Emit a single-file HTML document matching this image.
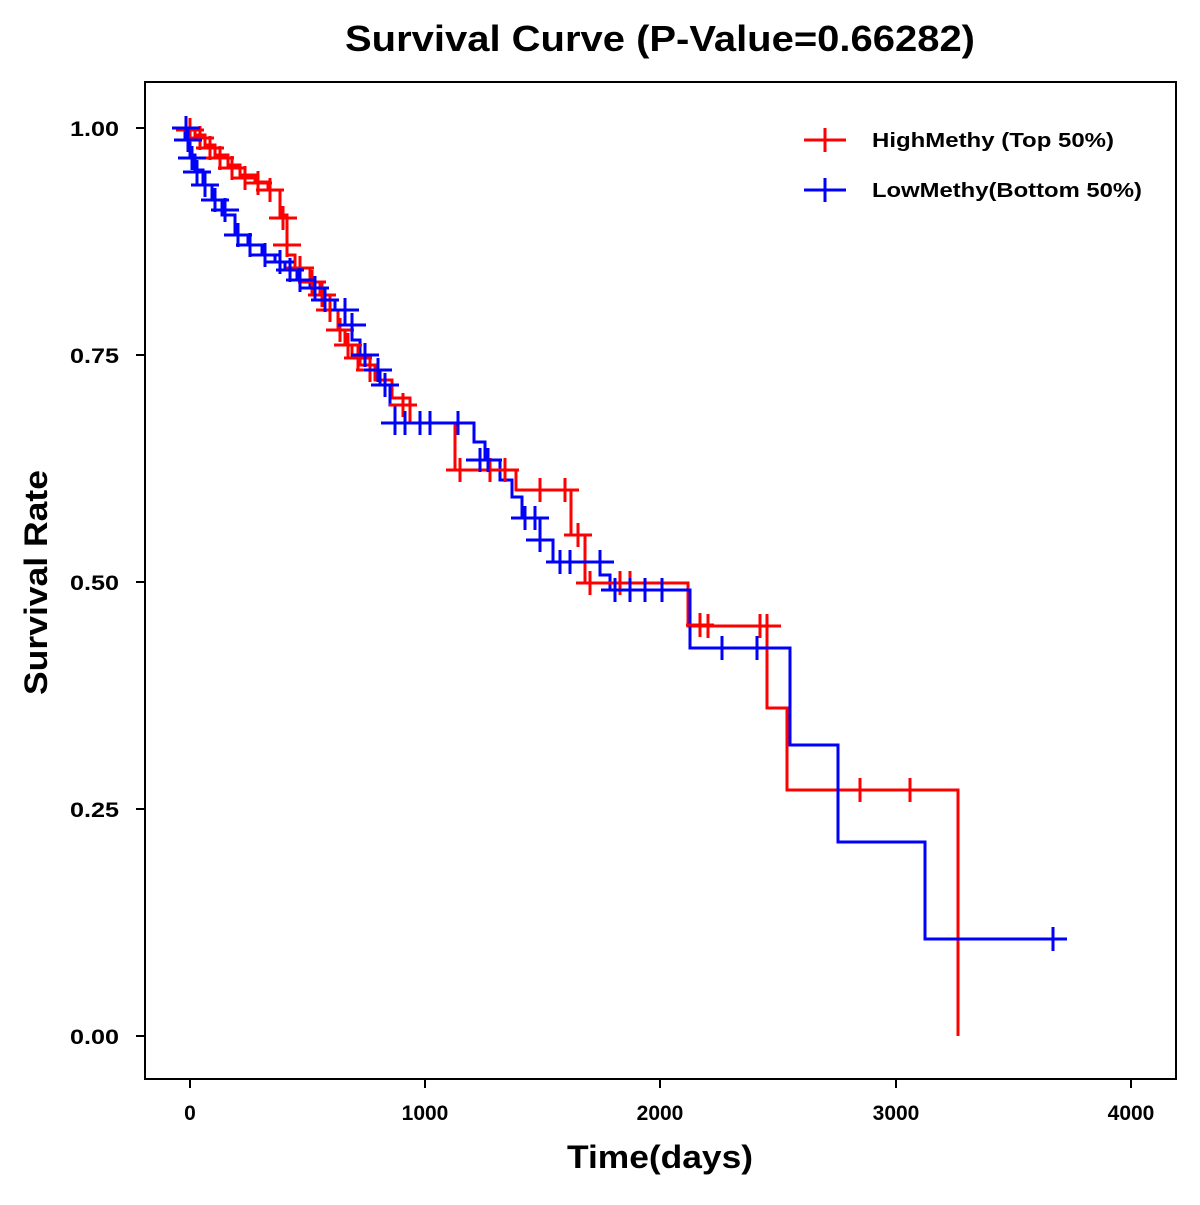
<!DOCTYPE html><html><head><style>body{margin:0;background:#fff}</style></head><body>
<svg width="1200" height="1200" xmlns="http://www.w3.org/2000/svg" font-family="Liberation Sans, sans-serif" font-weight="bold">
<rect width="1200" height="1200" fill="#fff"/>
<text x="345" y="51" font-size="36" textLength="630" lengthAdjust="spacingAndGlyphs">Survival Curve (P-Value=0.66282)</text>
<rect x="145" y="82" width="1031" height="997" fill="none" stroke="#000" stroke-width="2"/>
<g stroke="#000" stroke-width="2">
<line x1="190" y1="1079" x2="190" y2="1088"/><line x1="425" y1="1079" x2="425" y2="1088"/><line x1="660" y1="1079" x2="660" y2="1088"/><line x1="896" y1="1079" x2="896" y2="1088"/><line x1="1131" y1="1079" x2="1131" y2="1088"/>
<line x1="136" y1="128" x2="145" y2="128"/><line x1="136" y1="355" x2="145" y2="355"/><line x1="136" y1="582" x2="145" y2="582"/><line x1="136" y1="809" x2="145" y2="809"/><line x1="136" y1="1036" x2="145" y2="1036"/>
</g>
<g font-size="21" text-anchor="middle">
<text x="190" y="1120">0</text><text x="425" y="1120">1000</text><text x="660" y="1120">2000</text><text x="896" y="1120">3000</text><text x="1131" y="1120">4000</text>
</g>
<g font-size="21" text-anchor="end">
<text x="119" y="136" textLength="49" lengthAdjust="spacingAndGlyphs">1.00</text><text x="119" y="363" textLength="49" lengthAdjust="spacingAndGlyphs">0.75</text><text x="119" y="590" textLength="49" lengthAdjust="spacingAndGlyphs">0.50</text><text x="119" y="817" textLength="49" lengthAdjust="spacingAndGlyphs">0.25</text><text x="119" y="1044" textLength="49" lengthAdjust="spacingAndGlyphs">0.00</text>
</g>
<text x="567" y="1168" font-size="32" textLength="186" lengthAdjust="spacingAndGlyphs">Time(days)</text>
<text transform="translate(47,695) rotate(-90)" font-size="32" textLength="225" lengthAdjust="spacingAndGlyphs">Survival Rate</text>
<path fill="none" stroke="#f00" stroke-width="3" d="M178,128 H195 V135 H205 V145 H215 V155 H228 V165 H240 V175 H255 V182 H268 V190 H280 V215 H287 V255 H295 V268 H310 V282 H320 V295 H330 V310 H338 V330 H345 V345 H352 V355 H360 V365 H375 V380 H392 V398 H410 V423 H455 V470 H516 V490 H571 V535 H585 V583 H688 V626 H767 V708 H787 V790 H958 V1036"/>
<path fill="none" stroke="#00f" stroke-width="3" d="M178,128 H185 V140 H190 V155 H195 V170 H203 V185 H212 V200 H222 V215 H235 V235 H248 V245 H262 V255 H275 V262 H285 V270 H297 V280 H310 V288 H322 V300 H335 V310 H345 V325 H352 V340 H360 V355 H370 V370 H380 V385 H390 V405 H395 V423 H474 V442 H485 V460 H500 V480 H512 V497 H522 V518 H540 V540 H553 V562 H600 V575 H610 V590 H690 V648 H790 V745 H838 V842 H925 V939 H1065"/>
<g stroke="#f00" stroke-width="3">
<path d="M176,130h28M190,118v24M186,138h28M200,126v24M196,148h28M210,136v24M206,158h28M220,146v24M218,168h28M232,156v24M231,178h28M245,166v24M244,183h28M258,171v24M256,190h28M270,178v24M269,218h28M283,206v24M273,245h28M287,233v24M286,268h28M300,256v24M298,282h28M312,270v24M308,295h28M322,283v24M316,310h28M330,298v24M326,330h28M340,318v24M334,345h28M348,333v24M344,358h28M358,346v24M356,370h28M370,358v24M371,385h28M385,373v24M389,405h28M403,393v24M446,470h28M460,458v24M476,470h28M490,458v24M491,470h28M505,458v24M526,490h28M540,478v24M551,490h28M565,478v24M564,535h28M578,523v24M576,583h28M590,571v24M606,583h28M620,571v24M616,583h28M630,571v24M686,625h28M700,613v24M694,626h28M708,614v24M746,626h28M760,614v24M753,626h28M767,614v24M846,790h28M860,778v24M896,790h28M910,778v24"/>
</g>
<g stroke="#00f" stroke-width="3">
<path d="M172,128h28M186,116v24M174,140h28M188,128v24M178,158h28M192,146v24M183,172h28M197,160v24M191,185h28M205,173v24M201,200h28M215,188v24M211,210h28M225,198v24M224,235h28M238,223v24M236,245h28M250,233v24M251,255h28M265,243v24M266,262h28M280,250v24M276,270h28M290,258v24M286,280h28M300,268v24M301,288h28M315,276v24M311,300h28M325,288v24M331,310h28M345,298v24M338,325h28M352,313v24M351,355h28M365,343v24M364,370h28M378,358v24M371,385h28M385,373v24M381,423h28M395,411v24M391,423h28M405,411v24M406,423h28M420,411v24M416,423h28M430,411v24M444,423h28M458,411v24M466,460h28M480,448v24M474,460h28M488,448v24M511,518h28M525,506v24M521,518h28M535,506v24M526,540h28M540,528v24M546,562h28M560,550v24M556,562h28M570,550v24M586,562h28M600,550v24M601,590h28M615,578v24M616,590h28M630,578v24M631,590h28M645,578v24M648,590h28M662,578v24M708,648h28M722,636v24M743,648h28M757,636v24M1039,939h28M1053,927v24"/>
</g>
<path stroke="#f00" stroke-width="3" d="M804,140h42M825,128v24"/>
<path stroke="#00f" stroke-width="3" d="M804,190h42M825,178v24"/>
<text x="872" y="147" font-size="20" textLength="242" lengthAdjust="spacingAndGlyphs">HighMethy (Top 50%)</text>
<text x="872" y="197" font-size="20" textLength="270" lengthAdjust="spacingAndGlyphs">LowMethy(Bottom 50%)</text>
</svg>
</body></html>
